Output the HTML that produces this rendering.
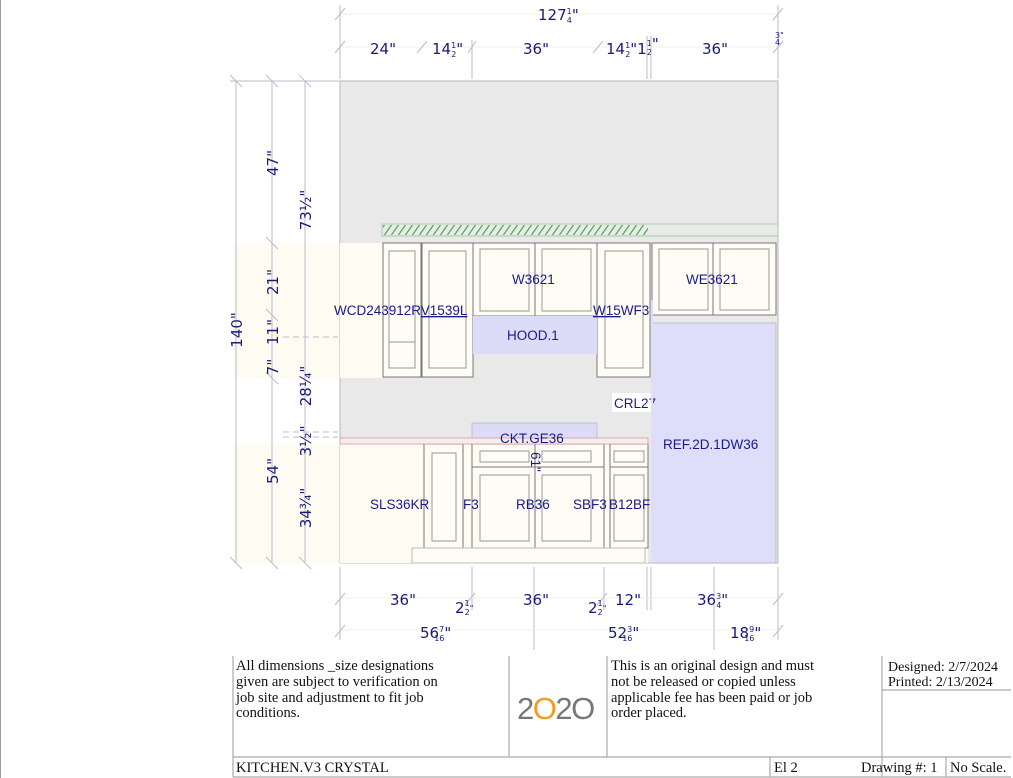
<!DOCTYPE html>
<html><head><meta charset="utf-8"><style>
html,body{margin:0;padding:0;background:#fff;}
svg{display:block;}
.d{font-family:"DejaVu Sans","Liberation Sans",sans-serif;fill:#1a1a7a;font-size:15px;}
.s{font-size:8px;}
.l{font-family:"Liberation Sans",sans-serif;fill:#1a1a8a;font-size:13.5px;}
.t{font-family:"Liberation Serif",serif;fill:#111;font-size:14.5px;}
</style></head><body>
<svg width="1013" height="778" viewBox="0 0 1013 778" xmlns="http://www.w3.org/2000/svg">
<defs>
<pattern id="h" width="7" height="12" patternUnits="userSpaceOnUse" patternTransform="skewX(-35)">
<line x1="3" y1="0" x2="3" y2="12" stroke="#3a9a3a" stroke-width="1.3"/></pattern>
</defs>
<line x1="0.5" y1="0" x2="0.5" y2="778" stroke="#999"/>
<rect x="233" y="243" width="107" height="135" fill="#fefcf2"/>
<rect x="233" y="444" width="107" height="119" fill="#fefcf2"/>
<rect x="340" y="81" width="438" height="482" fill="#e9e9e9" stroke="#b8b8b8"/>
<rect x="382" y="224" width="396" height="12" fill="#eaeaea" stroke="#9c9" stroke-width="0.8"/>
<rect x="383" y="225" width="265" height="10" fill="url(#h)"/>
<line x1="382" y1="236" x2="778" y2="236" stroke="#9c9" stroke-width="0.8"/>
<rect x="340" y="243" width="43" height="135" fill="#fefcf2"/>
<g fill="#fefcf4" stroke="#777" stroke-width="1">
<rect x="383" y="243" width="38" height="134"/>
<rect x="389" y="251" width="26" height="117" fill="none" stroke="#999"/>
<line x1="389" y1="342" x2="415" y2="342" stroke="#999"/>
<rect x="422" y="243" width="51" height="134"/>
<rect x="429" y="251" width="37" height="117" fill="none" stroke="#999"/>
<rect x="473" y="243" width="124" height="73"/>
<rect x="480" y="249" width="49" height="62" fill="none" stroke="#999"/>
<rect x="542" y="249" width="49" height="62" fill="none" stroke="#999"/>
<line x1="535" y1="243" x2="535" y2="316"/>
<rect x="597" y="243" width="53" height="134"/>
<rect x="605" y="251" width="38" height="117" fill="none" stroke="#999"/>
<rect x="652" y="243" width="124" height="72"/>
<rect x="659" y="249" width="49" height="61" fill="none" stroke="#999"/>
<rect x="720" y="249" width="49" height="61" fill="none" stroke="#999"/>
<line x1="713" y1="243" x2="713" y2="315"/>
</g>
<rect x="473" y="316" width="124" height="38" fill="#dcdcf8"/>
<rect x="652" y="323" width="124" height="240" fill="#dedefa" stroke="#aaa" stroke-width="0.6"/>
<rect x="472" y="423" width="125" height="17" fill="#dcdcf8" stroke="#aab" stroke-width="0.6"/>
<rect x="340" y="444" width="308" height="119" fill="#fefcf2"/>
<g fill="#fefcf4" stroke="#777" stroke-width="1">
<rect x="424" y="444" width="39" height="104"/>
<rect x="432" y="453" width="24" height="88" fill="none" stroke="#999"/>
<rect x="472" y="444" width="132" height="104"/>
<line x1="472" y1="467" x2="604" y2="467"/>
<rect x="480" y="451" width="49" height="11" fill="none" stroke="#999"/>
<rect x="542" y="451" width="49" height="11" fill="none" stroke="#999"/>
<rect x="480" y="475" width="49" height="66" fill="none" stroke="#999"/>
<rect x="542" y="475" width="49" height="66" fill="none" stroke="#999"/>
<line x1="535" y1="444" x2="535" y2="548"/>
<rect x="610" y="444" width="38" height="104"/>
<line x1="610" y1="467" x2="648" y2="467"/>
<rect x="614" y="451" width="30" height="11" fill="none" stroke="#999"/>
<rect x="614" y="475" width="30" height="66" fill="none" stroke="#999"/>
<rect x="412" y="548" width="233" height="15" fill="#fefcf4" stroke="#bbb"/>
</g>
<rect x="340" y="438" width="308" height="6" fill="#f2eeee" stroke="#d99" stroke-width="0.8"/>
<text class="l" x="334" y="315">WCD243912R<tspan text-decoration="underline">V1539L</tspan></text>
<text class="l" x="512" y="284">W3621</text>
<text class="l" x="686" y="284">WE3621</text>
<text class="l" x="593" y="315"><tspan text-decoration="underline">W15</tspan>WF3</text>
<text class="l" x="507" y="340">HOOD.1</text>
<rect x="612" y="393" width="40" height="19" fill="#fff"/>
<text class="l" x="614" y="408">CRL27</text>
<text class="l" x="500" y="443">CKT.GE36</text>
<text class="l" x="663" y="449">REF.2D.1DW36</text>
<text class="l" x="370" y="509">SLS36KR</text>
<text class="l" x="463" y="509">F3</text>
<text class="l" x="516" y="509">RB36</text>
<text class="l" x="573" y="509">SBF3</text>
<text class="l" x="609" y="509">B12BF</text>
<text class="l" x="531" y="452" transform="rotate(90 531 452)">61"</text>
<rect x="651" y="300" width="2" height="263" fill="#dedefa"/>
<g stroke="#bbc" stroke-width="1">
<line x1="340" y1="5" x2="340" y2="79"/><line x1="778" y1="5" x2="778" y2="79"/>
<line x1="472" y1="40" x2="472" y2="79"/><line x1="647" y1="36" x2="647" y2="79"/><line x1="651" y1="36" x2="651" y2="79"/>
<line x1="340" y1="14" x2="778" y2="14" stroke="#f0f0e0"/><line x1="340" y1="47" x2="778" y2="47" stroke="#f0f0e0"/>
<line x1="335" y1="20" x2="345" y2="8"/><line x1="773" y1="20" x2="783" y2="8"/>
<line x1="335" y1="53" x2="345" y2="41"/><line x1="417" y1="53" x2="427" y2="41"/><line x1="468" y1="53" x2="476" y2="41"/><line x1="593" y1="53" x2="603" y2="41"/><line x1="773" y1="53" x2="783" y2="41"/>
</g>
<text class="d" x="538" y="20">127<tspan class="s" dy="-6">1</tspan><tspan class="s" dx="-5" dy="9">4</tspan><tspan dy="-3">"</tspan></text>
<text class="d" x="370" y="54">24"</text>
<text class="d" x="432" y="54">14<tspan class="s" dy="-6">1</tspan><tspan class="s" dx="-5" dy="9">2</tspan><tspan dy="-3">"</tspan></text>
<text class="d" x="523" y="54">36"</text>
<text class="d" x="606" y="54">14<tspan class="s" dy="-6">1</tspan><tspan class="s" dx="-5" dy="9">2</tspan><tspan dy="-3">"1</tspan><tspan class="s" dy="-8">1</tspan><tspan class="s" dx="-5" dy="9">2</tspan><tspan dy="-6">"</tspan></text>
<text class="d" x="702" y="54">36"</text>
<text class="d s" x="775" y="38">3"</text><text class="d s" x="775" y="45">4</text>
<g stroke="#bbc" stroke-width="1">
<line x1="236" y1="81" x2="236" y2="563"/><line x1="272" y1="81" x2="272" y2="563"/><line x1="305" y1="81" x2="305" y2="563"/>
<line x1="230" y1="81" x2="340" y2="81"/>
<line x1="230" y1="75" x2="242" y2="87"/><line x1="266" y1="75" x2="278" y2="87"/><line x1="299" y1="75" x2="311" y2="87"/>
<line x1="266" y1="237" x2="278" y2="249"/><line x1="266" y1="309" x2="278" y2="321"/><line x1="266" y1="372" x2="278" y2="384"/>
<line x1="230" y1="557" x2="242" y2="569"/><line x1="266" y1="557" x2="278" y2="569"/><line x1="299" y1="557" x2="311" y2="569"/>
<line x1="283" y1="337" x2="338" y2="337" stroke-dasharray="6 4"/>
<line x1="283" y1="432" x2="338" y2="432" stroke-dasharray="6 4"/>
<line x1="283" y1="437" x2="338" y2="437" stroke-dasharray="6 4"/>
</g>
<g class="d">
<text transform="translate(242 330) rotate(-90)" text-anchor="middle">140"</text>
<text transform="translate(278 163) rotate(-90)" text-anchor="middle">47"</text>
<text transform="translate(278 282) rotate(-90)" text-anchor="middle">21"</text>
<text transform="translate(278 332) rotate(-90)" text-anchor="middle">11"</text>
<text transform="translate(278 367) rotate(-90)" text-anchor="middle">7"</text>
<text transform="translate(278 471) rotate(-90)" text-anchor="middle">54"</text>
<text transform="translate(311 210) rotate(-90)" text-anchor="middle">73½"</text>
<text transform="translate(311 386) rotate(-90)" text-anchor="middle">28¼"</text>
<text transform="translate(311 441) rotate(-90)" text-anchor="middle">3½"</text>
<text transform="translate(311 508) rotate(-90)" text-anchor="middle">34¾"</text>
</g>
<g stroke="#bbc" stroke-width="1">
<line x1="340" y1="567" x2="340" y2="640"/><line x1="778" y1="567" x2="778" y2="640"/>
<line x1="472" y1="567" x2="472" y2="610"/><line x1="534" y1="567" x2="534" y2="650"/><line x1="604" y1="567" x2="604" y2="610"/>
<line x1="647" y1="567" x2="647" y2="610"/><line x1="651" y1="567" x2="651" y2="610"/><line x1="714" y1="567" x2="714" y2="650"/>
<line x1="340" y1="598" x2="778" y2="598" stroke="#f0f0e0"/><line x1="340" y1="630" x2="778" y2="630" stroke="#f0f0e0"/>
<line x1="335" y1="605" x2="345" y2="593"/><line x1="773" y1="605" x2="783" y2="593"/>
<line x1="335" y1="637" x2="345" y2="625"/><line x1="773" y1="637" x2="783" y2="625"/>
<line x1="465" y1="605" x2="475" y2="593"/><line x1="597" y1="605" x2="607" y2="593"/>
</g>
<text class="d" x="390" y="605">36"</text>
<text class="d" x="455" y="613">2<tspan class="s" dy="-7">1</tspan><tspan class="s" dx="-5" dy="9">2</tspan><tspan class="s" dy="-4">"</tspan></text>
<text class="d" x="523" y="605">36"</text>
<text class="d" x="588" y="613">2<tspan class="s" dy="-7">1</tspan><tspan class="s" dx="-5" dy="9">2</tspan><tspan class="s" dy="-4">"</tspan></text>
<text class="d" x="615" y="605">12"</text>
<text class="d" x="697" y="605">36<tspan class="s" dy="-6">3</tspan><tspan class="s" dx="-5" dy="9">4</tspan><tspan dy="-3">"</tspan></text>
<text class="d" x="420" y="638">56<tspan class="s" dy="-6">7</tspan><tspan class="s" dx="-10" dy="9">16</tspan><tspan dy="-3">"</tspan></text>
<text class="d" x="608" y="638">52<tspan class="s" dy="-6">3</tspan><tspan class="s" dx="-10" dy="9">16</tspan><tspan dy="-3">"</tspan></text>
<text class="d" x="730" y="638">18<tspan class="s" dy="-6">9</tspan><tspan class="s" dx="-10" dy="9">16</tspan><tspan dy="-3">"</tspan></text>
<g stroke="#aaa" stroke-width="1.2" fill="none">
<line x1="233" y1="656" x2="233" y2="777"/>
<line x1="509" y1="656" x2="509" y2="757"/>
<line x1="607" y1="656" x2="607" y2="757"/>
<line x1="882" y1="656" x2="882" y2="777"/>
<line x1="882" y1="690" x2="1011" y2="690"/>
<line x1="233" y1="757" x2="1011" y2="757"/>
<line x1="233" y1="777" x2="1011" y2="777"/>
<line x1="770" y1="757" x2="770" y2="777"/>
<line x1="946" y1="757" x2="946" y2="777"/>
</g>
<g class="t">
<text x="236" y="670">All dimensions _size designations</text>
<text x="236" y="686">given are subject to verification on</text>
<text x="236" y="702">job site and adjustment to fit job</text>
<text x="236" y="717">conditions.</text>
<text x="611" y="670">This is an original design and must</text>
<text x="611" y="686">not be released or copied unless</text>
<text x="611" y="702">applicable fee has been paid or job</text>
<text x="611" y="717">order placed.</text>
<text x="888" y="671" font-size="14">Designed: 2/7/2024</text>
<text x="888" y="686" font-size="14">Printed: 2/13/2024</text>
<text x="236" y="772">KITCHEN.V3 CRYSTAL</text>
<text x="774" y="772">El 2</text>
<text x="861" y="772">Drawing #: 1</text>
<text x="950" y="772">No Scale.</text>
</g>
<text x="517" y="719" font-family="Liberation Sans,sans-serif" font-size="31" fill="#777" letter-spacing="-1.5">2<tspan fill="#f39a1f">O</tspan>2O</text>
</svg>
</body></html>
